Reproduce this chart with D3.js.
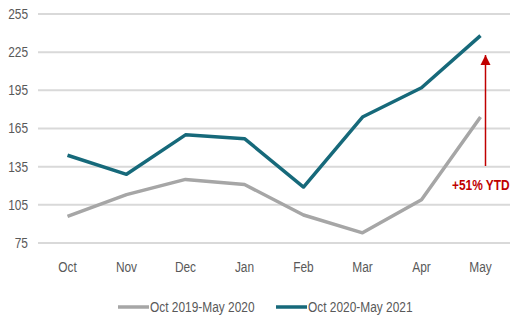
<!DOCTYPE html>
<html>
<head>
<meta charset="utf-8">
<script src="https://cdn.jsdelivr.net/npm/d3@7"></script>
<style>
  body { margin: 0; background: #fff; }
  text { font-family: "Liberation Sans Narrow", "Arial Narrow", "Liberation Sans", sans-serif; }
</style>
</head>
<body>
<svg id="chart" width="515" height="320"></svg>
<script>
// data
var months = ["Oct", "Nov", "Dec", "Jan", "Feb", "Mar", "Apr", "May"];
var prevYear = [96, 113, 125, 121, 97, 83, 109, 174];
var currYear = [144, 129, 160, 157, 119, 174, 197, 238];
var yTicks = [75, 105, 135, 165, 195, 225, 255];
var seriesNames = ["Oct 2019-May 2020", "Oct 2020-May 2021"];
var seriesColors = ["#a6a6a6", "#16697a"];

var svg = d3.select("#chart");

var x = d3.scaleBand().domain(months).range([38, 510]);
var y = d3.scaleLinear().domain([75, 255]).range([243, 14]);

// gridlines
svg.append("g")
    .selectAll("line")
    .data(yTicks)
    .enter().append("line")
    .attr("x1", 38).attr("x2", 510)
    .attr("y1", d => y(d)).attr("y2", d => y(d))
    .attr("stroke", "#d9d9d9")
    .attr("stroke-width", 2);

// y labels
svg.append("g")
    .selectAll("text")
    .data(yTicks)
    .enter().append("text")
    .attr("x", 28)
    .attr("y", d => y(d))
    .attr("dy", "0.35em")
    .attr("text-anchor", "end")
    .attr("font-size", 14)
    .attr("fill", "#595959")
    .text(d => d);

// x labels
svg.append("g")
    .selectAll("text")
    .data(months)
    .enter().append("text")
    .attr("x", d => x(d) + x.bandwidth() / 2)
    .attr("y", 267)
    .attr("dy", "0.35em")
    .attr("text-anchor", "middle")
    .attr("font-size", 14)
    .attr("fill", "#595959")
    .text(d => d);

var line = d3.line()
    .x((d, i) => x(months[i]) + x.bandwidth() / 2)
    .y(d => y(d));

[prevYear, currYear].forEach(function (vals, k) {
    svg.append("path")
        .datum(vals)
        .attr("d", line)
        .attr("fill", "none")
        .attr("stroke", seriesColors[k])
        .attr("stroke-width", 3.5)
        .attr("stroke-linejoin", "round");
});

// YTD arrow
var ax = x("May") + x.bandwidth() / 2 + 5;
svg.append("defs").append("marker")
    .attr("id", "arrowhead")
    .attr("viewBox", "0 0 10 10")
    .attr("refX", 10).attr("refY", 5)
    .attr("markerWidth", 10).attr("markerHeight", 14)
    .attr("markerUnits", "userSpaceOnUse")
    .attr("orient", "auto")
    .append("path")
    .attr("d", "M0,0 L10,5 L0,10 Z")
    .attr("fill", "#c00000");

svg.append("line")
    .attr("x1", ax).attr("x2", ax)
    .attr("y1", 166).attr("y2", 55)
    .attr("stroke", "#c00000")
    .attr("stroke-width", 1.5)
    .attr("marker-end", "url(#arrowhead)");

// legend
var legendItems = [{x: 118, name: seriesNames[0], color: seriesColors[0]},
                   {x: 276, name: seriesNames[1], color: seriesColors[1]}];
var lg = svg.append("g").selectAll("g").data(legendItems).enter().append("g");
lg.append("line")
    .attr("x1", d => d.x).attr("x2", d => d.x + 31)
    .attr("y1", 307).attr("y2", 307)
    .attr("stroke", d => d.color)
    .attr("stroke-width", 3.5);
lg.append("text")
    .attr("x", d => d.x + 32)
    .attr("y", 307)
    .attr("dy", "0.35em")
    .attr("font-size", 14)
    .attr("fill", "#595959")
    .text(d => d.name);

// squeeze text horizontally to mimic a narrow face
svg.selectAll("text").each(function () {
    var w = this.getComputedTextLength();
    d3.select(this)
        .attr("textLength", w * 0.85)
        .attr("lengthAdjust", "spacingAndGlyphs");
});

// annotation, squeezed with a transform
svg.append("g")
    .attr("transform", "translate(452,190) scale(0.85,1)")
    .append("text")
    .attr("x", 0)
    .attr("y", 0)
    .attr("font-size", 14)
    .attr("font-weight", "bold")
    .attr("fill", "#c00000")
    .text("+51% YTD");
</script>
</body>
</html>
